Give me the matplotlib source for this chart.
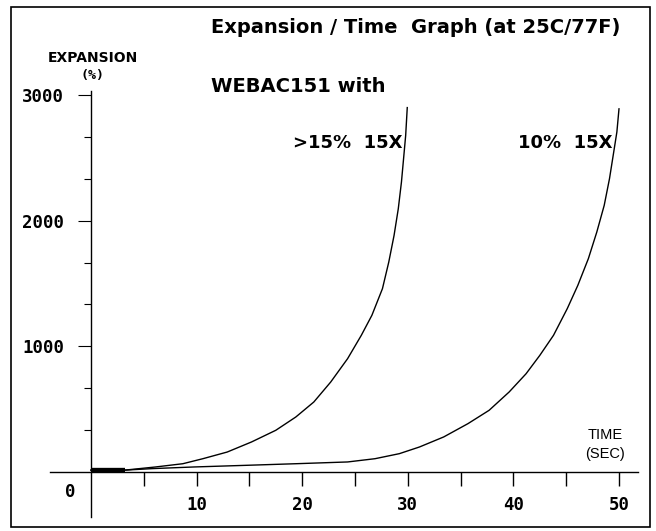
import matplotlib

matplotlib.use("Agg")
import matplotlib.pyplot as plt
from matplotlib.patches import Rectangle
from matplotlib.ticker import FixedLocator

# time (s) vs expansion (%)
T_15 = [0, 3.2, 6.1, 8.7, 10.6, 12.9, 15.2, 17.5, 19.4, 21.1, 22.7, 24.3, 25.6,
        26.6, 27.6, 28.2, 28.7, 29.1, 29.4, 29.6, 29.8, 29.95]
Y_15 = [15, 15, 40, 66, 106, 159, 239, 332, 438, 557, 716, 902, 1088,
        1247, 1459, 1671, 1883, 2095, 2308, 2493, 2679, 2900]
T_10 = [0, 3.2, 5.8, 9.7, 14.6, 19.4, 24.3, 26.9, 29.2, 31.1, 33.4, 35.7, 37.7,
        39.6, 41.2, 42.5, 43.8, 45.1, 46.1, 47.1, 47.9, 48.6, 49.1, 49.5, 49.8, 50.0]
Y_10 = [15, 15, 27, 40, 53, 66, 80, 106, 146, 199, 279, 385, 491,
        637, 782, 928, 1088, 1300, 1485, 1698, 1910, 2122, 2334, 2546, 2706, 2890]
LABEL_15 = ">15%  15X"
LABEL_10 = "10%  15X"
X_TICKS = [10, 20, 30, 40, 50]
X_MINOR = [5, 15, 25, 35, 45]
Y_TICKS = [1000, 2000, 3000]

W, H = 656, 531
MONO = "DejaVu Sans Mono"
BOLD = "DejaVu Sans"
SANS = "Liberation Sans"


def fx(px):
    return px / W


def fy(py):
    return (H - py) / H


fig = plt.figure(figsize=(W / 100, H / 100), dpi=100)
fig.patch.set_facecolor("white")
ax = fig.add_axes([fx(49.8), fy(517), (638 - 49.8) / W, (517 - 91) / H])
ax.set_xlim(-3.9, 51.8)
ax.set_ylim(-358, 3032)

for t, y, lab, xr in ((T_15, Y_15, LABEL_15, 29.5), (T_10, Y_10, LABEL_10, 49.4)):
    ax.plot(t, y, color="black", lw=1.0, solid_joinstyle="round")
    ax.plot(t[:2], y[:2], color="black", lw=3.0, solid_capstyle="butt")
    ax.text(xr, 2578, lab, ha="right", va="baseline", fontsize=13,
            fontweight="bold", family=BOLD)

ax.spines[["top", "right"]].set_visible(False)
ax.spines["left"].set_position(("data", 0))
ax.spines["bottom"].set_position(("data", 0))
for s in ("left", "bottom"):
    ax.spines[s].set_linewidth(1.0)

ax.xaxis.set_major_locator(FixedLocator(X_TICKS))
ax.xaxis.set_minor_locator(FixedLocator(X_MINOR))
ax.yaxis.set_major_locator(FixedLocator(Y_TICKS))
ax.yaxis.set_minor_locator(FixedLocator([k * 1000 / 3 for k in (1, 2, 4, 5, 7, 8)]))
ax.tick_params(axis="x", which="both", direction="out", length=10, width=1.0,
               pad=7)
ax.tick_params(axis="y", which="major", direction="out", length=9.5, width=0.8,
               pad=10)
ax.tick_params(axis="y", which="minor", direction="out", length=5, width=0.8)
for lbl in ax.get_xticklabels() + ax.get_yticklabels():
    lbl.set_family(MONO)
    lbl.set_fontweight("bold")
    lbl.set_fontsize(12.5)
ax.annotate("0", xy=(0, 0), xytext=(-14.8, -14.4), textcoords="offset points",
            ha="center", va="center", family=MONO, fontweight="bold", fontsize=12.5)

fig.text(fx(211), fy(33), "Expansion / Time  Graph (at 25C/77F)", ha="left",
         va="baseline", fontsize=14, fontweight="bold", family=BOLD)
fig.text(fx(211), fy(92), "WEBAC151 with", ha="left", va="baseline",
         fontsize=14, fontweight="bold", family=BOLD)
fig.text(fx(93), fy(58), "EXPANSION", ha="center", va="center",
         fontsize=10, fontweight="bold", family=BOLD)
fig.text(fx(92), fy(76), "(%)", ha="center", va="center",
         fontsize=9.5, fontweight="bold", family=MONO)
fig.text(fx(605), fy(435), "TIME", ha="center", va="center",
         fontsize=10.5, family=SANS)
fig.text(fx(605), fy(454), "(SEC)", ha="center", va="center",
         fontsize=10.5, family=SANS)

fig.add_artist(Rectangle((fx(11), fy(527)), fx(650 - 11), (527 - 7) / H,
                         transform=fig.transFigure, fill=False,
                         edgecolor="black", lw=1.2))

fig.savefig("out.png", dpi=100)
